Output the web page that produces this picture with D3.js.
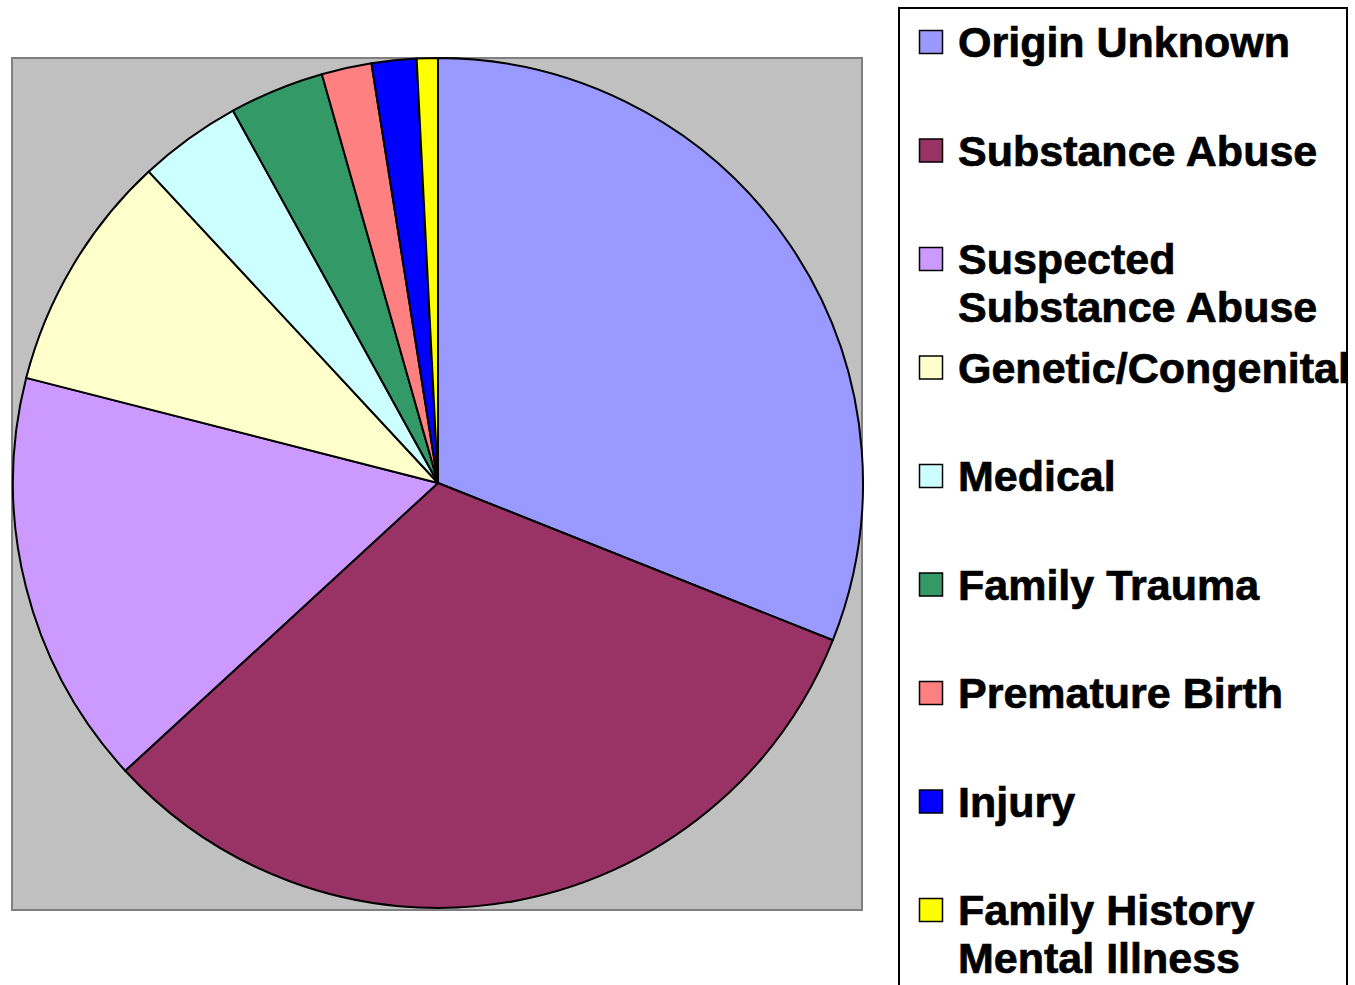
<!DOCTYPE html>
<html>
<head>
<meta charset="utf-8">
<script src="https://cdn.jsdelivr.net/npm/d3@7"></script>
<style>
  body { margin: 0; background: #fff; }
  svg { display: block; }
  .legend-label { font-family: Arial, "Liberation Sans", Helvetica, sans-serif; }
</style>
</head>
<body>
<svg id="chart"></svg>
<script>
// causes, in legend / slice order (clockwise from 12 o'clock)
var causes = [
  "Origin Unknown",
  "Substance Abuse",
  "Suspected Substance Abuse",
  "Genetic/Congenital",
  "Medical",
  "Family Trauma",
  "Premature Birth",
  "Injury",
  "Family History Mental Illness"
];

// share of cases, percent
var shares = [31.0, 32.1, 15.8, 9.1, 3.9, 3.6, 1.9, 1.7, 0.8];

// legend lines (long names wrap the way the original does)
var legendLines = [
  ["Origin Unknown"],
  ["Substance Abuse"],
  ["Suspected", "Substance Abuse"],
  ["Genetic/Congenital"],
  ["Medical"],
  ["Family Trauma"],
  ["Premature Birth"],
  ["Injury"],
  ["Family History", "Mental Illness"]
];

var colors = ["#9999ff", "#993366", "#cc99ff", "#ffffcc", "#ccffff",
              "#339966", "#ff8080", "#0000ff", "#ffff00"];

var width = 1355;
var height = 985;

var svg = d3.select("#chart")
  .attr("width", width)
  .attr("height", height);

// grey plot area
svg.append("rect")
  .attr("x", 12)
  .attr("y", 58)
  .attr("width", 850)
  .attr("height", 852)
  .attr("fill", "#c0c0c0")
  .attr("stroke", "#808080")
  .attr("stroke-width", 2);

// pie
var cx = 438, cy = 483, radius = 425;

var pie = d3.pie()
  .sort(null)
  .value(d => d);

var arc = d3.arc()
  .innerRadius(0)
  .outerRadius(radius);

var pieG = svg.append("g")
  .attr("transform", "translate(" + cx + "," + cy + ")");

pieG.selectAll("path")
  .data(pie(shares))
  .enter()
  .append("path")
  .attr("d", arc)
  .attr("fill", (d, i) => colors[i])
  .attr("stroke", "#000")
  .attr("stroke-width", 2)
  .attr("stroke-linejoin", "round");

// legend box (runs off the bottom of the picture)
svg.append("rect")
  .attr("x", 899)
  .attr("y", 8)
  .attr("width", 448)
  .attr("height", 1000)
  .attr("fill", "#fff")
  .attr("stroke", "#000")
  .attr("stroke-width", 2);

var rowY = d3.scaleLinear()
  .domain([0, causes.length - 1])
  .range([42, 910]);

var legend = svg.append("g");

var item = legend.selectAll("g")
  .data(causes)
  .enter()
  .append("g")
  .attr("transform", (d, i) => "translate(0," + rowY(i) + ")");

item.append("rect")
  .attr("x", 919.5)
  .attr("y", -11.5)
  .attr("width", 23)
  .attr("height", 23)
  .attr("fill", (d, i) => colors[i])
  .attr("stroke", "#000")
  .attr("stroke-width", 1.5);

item.append("text")
  .attr("class", "legend-label")
  .attr("x", 958)
  .attr("y", 15)
  .attr("font-weight", "bold")
  .attr("font-size", "43px")
  .attr("fill", "#000")
  .attr("stroke", "#000")
  .attr("stroke-width", 0.7)
  .each(function(d, i) {
    var t = d3.select(this);
    legendLines[i].forEach(function(line, j) {
      t.append("tspan")
        .attr("x", 958)
        .attr("dy", j === 0 ? 0 : 48)
        .text(line);
    });
  });
</script>
</body>
</html>
